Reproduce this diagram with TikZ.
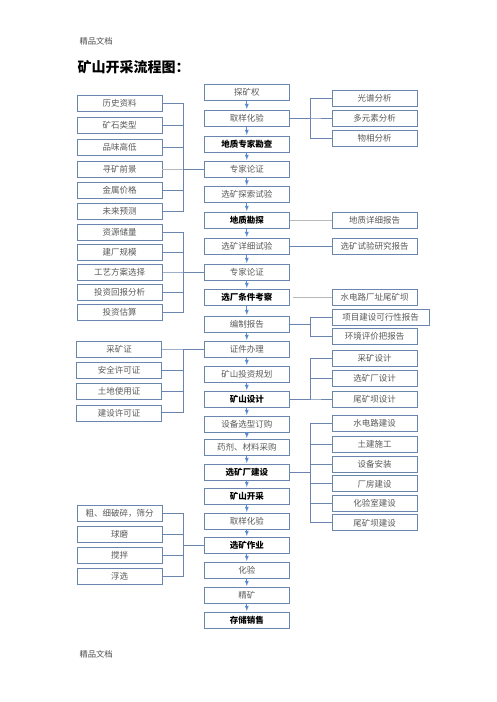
\documentclass[tikz,border=0pt]{standalone}
\usepackage{fontspec}
\setmainfont{Noto Sans CJK SC}
\usetikzlibrary{positioning}

\definecolor{boxblue}{RGB}{106,134,174}
\definecolor{flowblue}{RGB}{91,139,205}
\definecolor{lightline}{RGB}{185,185,185}

\begin{document}
\begin{tikzpicture}[x=1pt,y=-1pt,node distance=25pt,on grid,
			box/.style={rectangle, draw=boxblue, line width=0.8pt, minimum width=85pt, minimum height=16pt, inner sep=0pt, text=black!65, font=\fontsize{8.5}{10}\selectfont},
			boldbox/.style={box, text=black, font=\fontsize{8.5}{10}\selectfont\bfseries},
			flow/.style={->, >=latex, draw=flowblue, line width=0.8pt, shorten >=0.5pt},
			link/.style={draw=boxblue, line width=1pt},
			thin/.style={draw=lightline, line width=0.8pt}
		]
		\useasboundingbox (0,0) rectangle (496,702);
		
		\node[anchor=west, text=black!70, font=\fontsize{8.3}{10}\selectfont] (hd) at (76,41) {精品文档};
		\node[anchor=west, font=\fontsize{14}{16}\selectfont\bfseries] (title) at (74,67) {矿山开采流程图：};
		\node[anchor=west, text=black!70, font=\fontsize{8.3}{10}\selectfont] (ft) at (76,654) {精品文档};
		
		% main column
		\node[box] (tkq) at (246.8,92) {探矿权};
		\node[box] (qyhy) [below=of tkq, yshift=-1pt] {取样化验};
		\node[boldbox] (dzzj) [below=of qyhy, yshift=-1pt] {地质专家勘查};
		\node[box] (zjlz) [below=of dzzj] {专家论证};
		\node[box] (xtss) [below=of zjlz, yshift=-0.5pt] {选矿探索试验};
		\node[boldbox] (dzkt) [below=of xtss, yshift=-0.5pt] {地质勘探};
		\node[box] (xxsy) [below=of dzkt, yshift=-1pt] {选矿详细试验};
		\node[box] (zjlz2) [below=of xxsy, yshift=-1pt] {专家论证};
		\node[boldbox] (xctj) [below=of zjlz2] {选厂条件考察};
		\node[box] (bzbg) [below=of xctj, yshift=-2pt] {编制报告};
		\node[box] (zjbl) [below=of bzbg] {证件办理};
		\node[box] (tzgh) [below=of zjbl] {矿山投资规划};
		\node[boldbox] (kssj) [below=of tzgh] {矿山设计};
		\node[box] (sbdg) [below=of kssj] {设备选型订购};
		\node[box] (yjcg) [below=of sbdg, yshift=2pt] {药剂、材料采购};
		\node[boldbox] (xcjs) [below=of yjcg] {选矿厂建设};
		\node[boldbox] (kskc) [below=of xcjs, yshift=1pt] {矿山开采};
		\node[box] (qyhy2) [below=of kskc] {取样化验};
		\node[boldbox] (xkzy) [below=of qyhy2, yshift=1pt] {选矿作业};
		\node[box] (hy) [below=of xkzy] {化验};
		\node[box] (jk) [below=of hy] {精矿};
		\node[boldbox] (ccxs) [below=of jk] {存储销售};
		
		% left groups
		\node[box] (xkqj) [left=127.3pt of zjlz] {寻矿前景};
		\node[box] (pwgd) [above=21.8pt of xkqj] {品味高低};
		\node[box] (kslx) [above=21.8pt of pwgd] {矿石类型};
		\node[box] (lszl) [above=21.8pt of kslx] {历史资料};
		\node[box] (jsjg) [below=21.2pt of xkqj] {金属价格};
		\node[box] (wlyc) [below=21.2pt of jsjg] {未来预测};
		
		\node[box] (gyfa) [left=127.3pt of zjlz2] {工艺方案选择};
		\node[box] (jcgm) [above=20pt of gyfa] {建厂规模};
		\node[box] (zycl) [above=20pt of jcgm] {资源储量};
		\node[box] (tzhb) [below=20pt of gyfa] {投资回报分析};
		\node[box] (tzgs) [below=20pt of tzhb] {投资估算};
		
		\node[box] (ckz) [left=127.8pt of zjbl] {采矿证};
		\node[box] (aqxk) [below=21.3pt of ckz] {安全许可证};
		\node[box] (tdsy) [below=21.3pt of aqxk] {土地使用证};
		\node[box] (jsxk) [below=21.3pt of tdsy] {建设许可证};
		
		\node[box] (qm) [left=127.3pt of xkzy, yshift=11pt] {球磨};
		\node[box] (cxps) [above=21pt of qm] {粗、细破碎，筛分};
		\node[box] (jb) [below=21pt of qm] {搅拌};
		\node[box] (fx) [below=21pt of jb] {浮选};
		
		% right groups
		\node[box] (dysf) [right=127.7pt of qyhy] {多元素分析};
		\node[box] (gpfx) [above=20pt of dysf] {光谱分析};
		\node[box] (wxfx) [below=20pt of dysf] {物相分析};
		\node[box] (dzbg) [right=127.7pt of dzkt] {地质详细报告};
		\node[box] (xsbg) [right=127.7pt of xxsy] {选矿试验研究报告};
		\node[box] (sdl) [right=127.7pt of xctj] {水电路厂址尾矿坝};
		\node[box, minimum width=97pt] (xmbg) [right=133.7pt of bzbg, yshift=7pt] {项目建设可行性报告};
		\node[box] (hjbg) [below=19.7pt of xmbg, xshift=-6pt] {环境评价把报告};
		
		\node[box] (wksj) [right=127.7pt of kssj] {尾矿坝设计};
		\node[box] (xcsj) [above=20.3pt of wksj] {选矿厂设计};
		\node[box] (cksj) [above=20.3pt of xcsj] {采矿设计};
		
		\node[box] (sbaz) [right=127.7pt of xcjs, yshift=7.7pt] {设备安装};
		\node[box] (tjsg) [above=20pt of sbaz] {土建施工};
		\node[box] (sdjs) [above=21pt of tjsg] {水电路建设};
		\node[box] (cfjs) [below=19.5pt of sbaz] {厂房建设};
		\node[box] (hysjs) [below=19.5pt of cfjs] {化验室建设};
		\node[box] (wkbjs) [below=19.5pt of hysjs] {尾矿坝建设};
		
		% brackets
		\foreach \n in {lszl,kslx,pwgd,jsjg,wlyc}
			\draw[link] (\n.east) -- ++(21pt,0) |- (zjlz.west);
		\draw[thin] (xkqj.east) -- ++(21pt,0);
		\foreach \n in {zycl,jcgm,gyfa,tzhb,tzgs}
			\draw[link] (\n.east) -- ++(21pt,0) |- (zjlz2.west);
		\foreach \n in {ckz,aqxk,tdsy,jsxk}
			\draw[link] (\n.east) -- ++(22pt,0) |- (zjbl.west);
		\foreach \n in {cxps,qm,jb,fx}
			\draw[link] (\n.east) -- ++(21pt,0) |- (xkzy.west);
		
		\foreach \n in {gpfx,dysf,wxfx}
			\draw[link] (qyhy.east) -- ++(21pt,0) |- (\n.west);
		\foreach \n in {xmbg,hjbg}
			\draw[link] (bzbg.east) -- ++(21pt,0) |- (\n.west);
		\foreach \n in {cksj,xcsj,wksj}
			\draw[link] (kssj.east) -- ++(21pt,0) |- (\n.west);
		\foreach \n in {sdjs,tjsg,sbaz,cfjs,hysjs,wkbjs}
			\draw[link] (xcjs.east) -- ++(21pt,0) |- (\n.west);
		
		\draw[thin] (dzkt.east) -- (dzbg.west);
		\draw[link] (xxsy.east) -- (xsbg.west);
		\draw[thin] ([xshift=3pt]xctj.east) -- (sdl.west);
		
		% flow arrows
		\foreach \a/\b in {tkq/qyhy,qyhy/dzzj,dzzj/zjlz,zjlz/xtss,xtss/dzkt,dzkt/xxsy,xxsy/zjlz2,zjlz2/xctj,xctj/bzbg,bzbg/zjbl,zjbl/tzgh,tzgh/kssj,kssj/sbdg,sbdg/yjcg,yjcg/xcjs,xcjs/kskc,kskc/qyhy2,qyhy2/xkzy,xkzy/hy,hy/jk,jk/ccxs}
			\draw[flow] (\a.south) -- (\b.north);
	\end{tikzpicture}
\end{document}
